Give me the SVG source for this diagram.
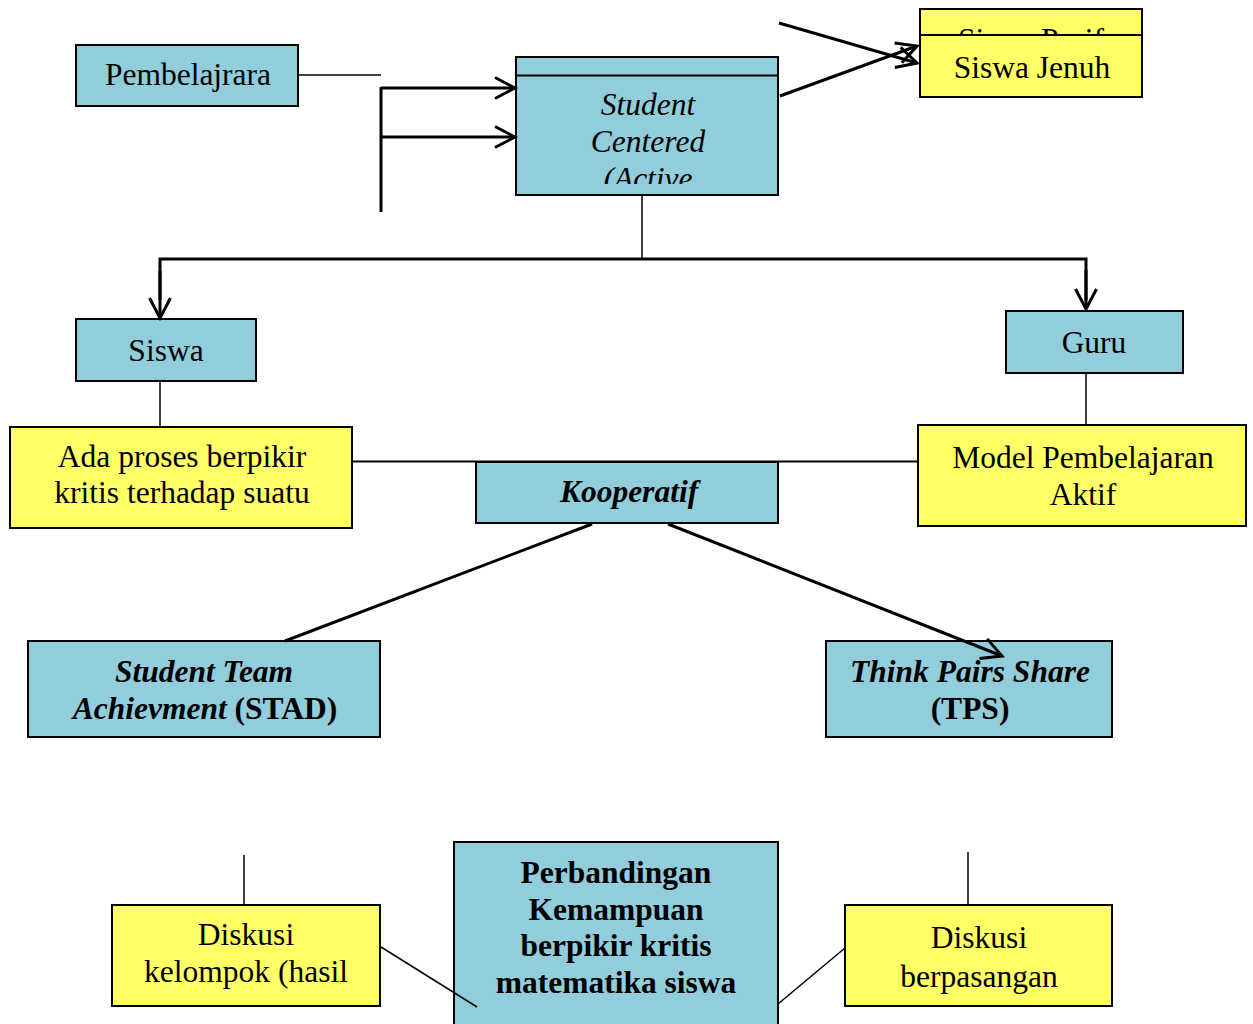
<svg xmlns="http://www.w3.org/2000/svg" width="1253" height="1024" viewBox="0 0 1253 1024">
<defs>
<style>
.blue{fill:#92CDDC;stroke:#000;stroke-width:2}
.yel{fill:#FFFF66;stroke:#000;stroke-width:2}
.t{font-family:"Liberation Serif","Times New Roman",serif;font-size:31.5px;fill:#000;text-anchor:middle}
.i{font-style:italic}
.b{font-weight:bold}
.thick{stroke:#000;stroke-width:3;fill:none}
.thin{stroke:#000;stroke-width:1.5;fill:none}
</style>
<marker id="arr" markerUnits="userSpaceOnUse" viewBox="0 0 24 24" refX="21" refY="12" markerWidth="24" markerHeight="24" orient="auto">
<path d="M1,1.5 L21,12 L1,22.5" fill="none" stroke="#000" stroke-width="3"/>
</marker>
<clipPath id="clipSC"><rect x="516" y="76" width="263" height="108"/></clipPath>
<clipPath id="clipSP"><rect x="920" y="9" width="222" height="26"/></clipPath>
</defs>
<g id="pembelajrara">
<rect class="blue" x="76" y="45" width="222" height="61"/>
<text class="t" x="188" y="85">Pembelajrara</text>
</g>
<g id="student-centered">
<rect class="blue" x="516" y="57" width="262" height="138"/>
<line x1="516" y1="75.5" x2="778" y2="75.5" stroke="#000" stroke-width="2"/>
<g clip-path="url(#clipSC)">
<text class="t i" x="648" y="115">Student</text>
<text class="t i" x="648" y="152">Centered</text>
<text class="t i" x="648" y="189">(Active</text>
</g>
</g>
<g id="siswa-pasif">
<rect class="yel" x="920" y="9" width="222" height="88"/>
<text class="t" x="1031" y="50" clip-path="url(#clipSP)">Siswa Pasif</text>
</g>
<g id="siswa-jenuh">
<rect class="yel" x="920" y="35" width="222" height="62"/>
<text class="t" x="1032" y="78">Siswa Jenuh</text>
</g>
<g id="siswa">
<rect class="blue" x="76" y="319" width="180" height="62"/>
<text class="t" x="166" y="361">Siswa</text>
</g>
<g id="guru">
<rect class="blue" x="1006" y="311" width="177" height="62"/>
<text class="t" x="1094" y="353">Guru</text>
</g>
<g id="ada-proses">
<rect class="yel" x="10" y="427" width="342" height="101"/>
<text class="t" x="182" y="467">Ada proses berpikir</text>
<text class="t" x="182" y="503">kritis terhadap suatu</text>
</g>
<g id="model">
<rect class="yel" x="918" y="425" width="328" height="101"/>
<text class="t" x="1083" y="468">Model Pembelajaran</text>
<text class="t" x="1083" y="505">Aktif</text>
</g>
<g id="kooperatif">
<rect class="blue" x="476" y="462" width="302" height="61"/>
<text class="t i b" x="629" y="502">Kooperatif</text>
</g>
<g id="stad">
<rect class="blue" x="28" y="641" width="352" height="96"/>
<text class="t i b" x="204" y="682">Student Team</text>
<text class="t b" x="205" y="719"><tspan class="i">Achievment</tspan> (STAD)</text>
</g>
<g id="tps">
<rect class="blue" x="826" y="641" width="286" height="96"/>
<text class="t i b" x="970" y="682">Think Pairs Share</text>
<text class="t b" x="970" y="719">(TPS)</text>
</g>
<g id="diskusi-kelompok">
<rect class="yel" x="112" y="905" width="268" height="101"/>
<text class="t" x="246" y="945">Diskusi</text>
<text class="t" x="246" y="982">kelompok (hasil</text>
</g>
<g id="perbandingan">
<rect class="blue" x="454" y="842" width="324" height="190"/>
<text class="t b" x="616" y="883">Perbandingan</text>
<text class="t b" x="616" y="920">Kemampuan</text>
<text class="t b" x="616" y="956">berpikir kritis</text>
<text class="t b" x="616" y="993">matematika siswa</text>
</g>
<g id="diskusi-berpasangan">
<rect class="yel" x="845" y="905" width="267" height="101"/>
<text class="t" x="979" y="948">Diskusi</text>
<text class="t" x="979" y="987">berpasangan</text>
</g>
<g id="connectors">
<line class="thin" x1="299" y1="75" x2="381" y2="75"/>
<line class="thick" x1="381" y1="87" x2="381" y2="212"/>
<line class="thick" x1="381" y1="88" x2="515" y2="88" marker-end="url(#arr)"/>
<line class="thick" x1="381" y1="137" x2="515" y2="137" marker-end="url(#arr)"/>
<line class="thick" x1="779" y1="23" x2="917" y2="63" marker-end="url(#arr)"/>
<line class="thick" x1="780" y1="96" x2="917" y2="46" marker-end="url(#arr)"/>
<line class="thin" x1="642" y1="196" x2="642" y2="259"/>
<polyline class="thick" points="160,300 160,259 1086,259 1086,300"/>
<line class="thick" x1="160" y1="270" x2="160" y2="318" marker-end="url(#arr)"/>
<line class="thick" x1="1086" y1="270" x2="1086" y2="309" marker-end="url(#arr)"/>
<line class="thin" x1="160" y1="382" x2="160" y2="426"/>
<line class="thin" x1="1086" y1="374" x2="1086" y2="424"/>
<line class="thin" x1="353" y1="461.5" x2="917" y2="461.5" style="stroke-width:2"/>
<line class="thick" x1="592" y1="524" x2="285" y2="641"/>
<line class="thick" x1="668" y1="524" x2="1002" y2="656" marker-end="url(#arr)"/>
<line class="thin" x1="244" y1="855" x2="244" y2="904"/>
<line class="thin" x1="968" y1="852" x2="968" y2="904"/>
<line class="thin" x1="381" y1="947" x2="477" y2="1007"/>
<line class="thin" x1="845" y1="948" x2="778" y2="1004"/>
</g>
</svg>
